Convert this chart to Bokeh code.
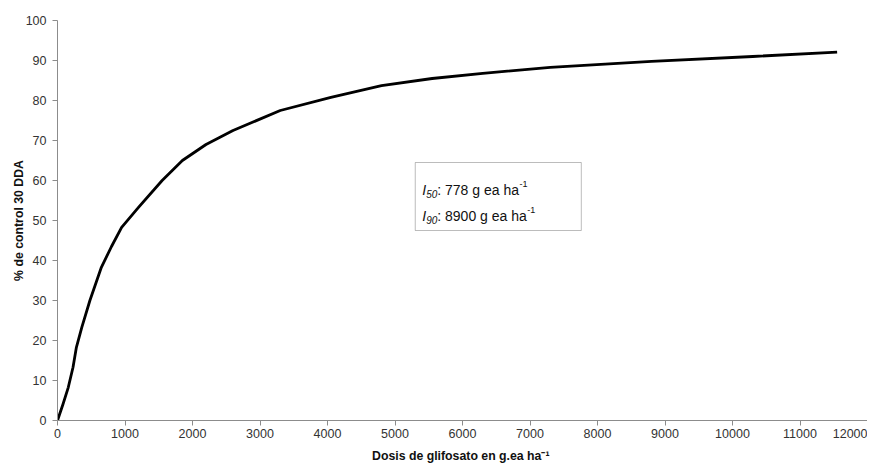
from bokeh.plotting import figure
from bokeh.models import Range1d, BoxAnnotation, Label, FixedTicker
from bokeh.embed import file_html
from bokeh.resources import INLINE

# Data
dose = [0, 80, 160, 230, 280, 360, 480, 650, 800, 950, 1200, 1550, 1850, 2200,
        2600, 3300, 4050, 4800, 5550, 6300, 7300, 8800, 10300, 11550]
control = [0, 4, 8.3, 13.3, 18.3, 23.3, 30, 38.3, 43.5, 48.3, 53.3, 60, 65, 69,
           72.5, 77.5, 80.8, 83.7, 85.5, 86.8, 88.3, 89.8, 91, 92.1]
x_ticks = list(range(0, 12001, 1000))
y_ticks = list(range(0, 101, 10))
x_label = "Dosis de glifosato en g.ea  ha\u207b\u00b9"
y_label = "% de control 30 DDA"
box_lines = [("50", ": 778 g ea ha"), ("90", ": 8900 g ea ha")]

FONT = "Liberation Sans"

p = figure(frame_width=810, frame_height=400, output_backend="svg", toolbar_location=None,
           x_range=Range1d(0, 12000), y_range=Range1d(0, 100),
           min_border_left=57, min_border_right=0, min_border_top=20,
           min_border_bottom=0)
p.outline_line_color = None
p.xgrid.visible = False
p.ygrid.visible = False

p.line(dose, control, line_color="black", line_width=2.8, line_join="round")

for ax in (p.xaxis[0], p.yaxis[0]):
    ax.axis_line_color = "#8c8c8c"
    ax.major_tick_line_color = "#8c8c8c"
    ax.major_tick_in = 0
    ax.major_tick_out = 5
    ax.minor_tick_line_color = None
    ax.major_label_text_font = FONT
    ax.major_label_text_font_size = "12.5px"
    ax.major_label_text_color = "#333333"
    ax.axis_label_text_font = FONT
    ax.axis_label_text_font_size = "12.3px"
    ax.axis_label_text_font_style = "bold"
    ax.axis_label_text_color = "#111111"

p.xaxis.ticker = FixedTicker(ticks=x_ticks)
p.yaxis.ticker = FixedTicker(ticks=y_ticks)
p.xaxis.axis_label = x_label
p.yaxis.axis_label = y_label
p.xaxis.major_label_standoff = 3
p.xaxis.axis_label_standoff = 8
p.yaxis.major_label_standoff = 6
p.yaxis.axis_label_standoff = -3

# annotation box
bx_left, bx_right, bx_top, bx_bottom = 5300, 7760, 64.5, 47.5
p.add_layout(BoxAnnotation(left=bx_left, right=bx_right, top=bx_top, bottom=bx_bottom,
                           fill_alpha=0, line_color="#222222", line_width=1))

baselines = [57.6, 51.2]
fs = 14
for (sub, main), yb in zip(box_lines, baselines):
    x0 = 7
    p.add_layout(Label(x=bx_left, y=yb, x_offset=x0, text="I", text_font=FONT,
                       text_font_style="italic", text_font_size=f"{fs}px",
                       text_baseline="alphabetic", text_color="#111111"))
    x0 += 4
    p.add_layout(Label(x=bx_left, y=yb, x_offset=x0, y_offset=-4, text=sub, text_font=FONT,
                       text_font_style="italic", text_font_size="10px",
                       text_baseline="alphabetic", text_color="#111111"))
    x0 += 11
    p.add_layout(Label(x=bx_left, y=yb, x_offset=x0, text=main, text_font=FONT,
                       text_font_size=f"{fs}px",
                       text_baseline="alphabetic", text_color="#111111"))
    ndig = len(main.split()[1])
    w = (0.278 * 5 + 0.556 * (ndig + 5)) * fs
    x0 += w + 0.5
    p.add_layout(Label(x=bx_left, y=yb, x_offset=x0, y_offset=6, text="-1", text_font=FONT,
                       text_font_size="9px",
                       text_baseline="alphabetic", text_color="#111111"))

open("out.html", "w").write(file_html(p, INLINE))
